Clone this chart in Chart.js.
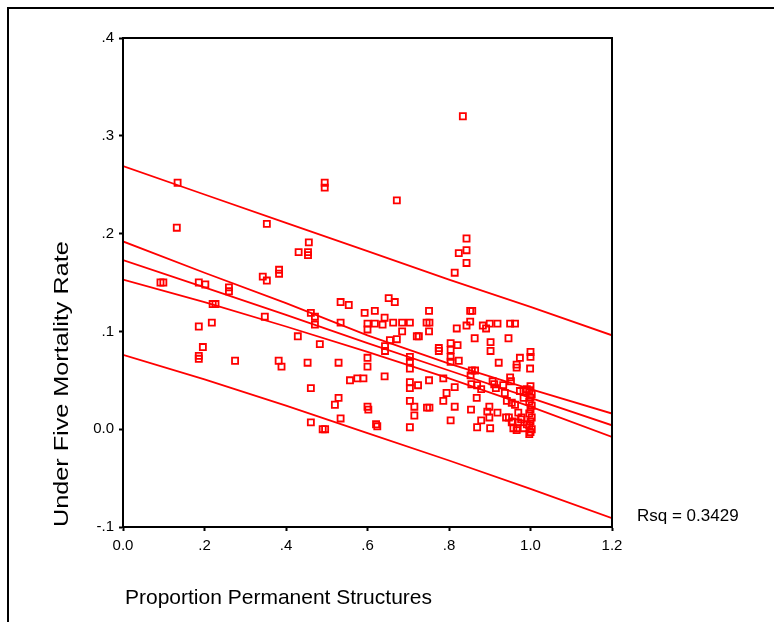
<!DOCTYPE html>
<html>
<head>
<meta charset="utf-8">
<title>Under Five Mortality Rate</title>
<script src="https://cdn.jsdelivr.net/npm/chart.js@4.4.1/dist/chart.umd.min.js"></script>
<style>
    html, body { margin: 0; padding: 0; background: #fff; overflow: hidden; }
    #box { position: relative; width: 774px; height: 622px; }
</style>
</head>
<body>
<div id="box"><canvas id="grafico" width="774" height="622"></canvas></div>
<script>
// dati
var proporzione = [
    0.134,0.834,0.495,0.495,0.672,0.843,0.456,0.431,0.454,0.454,
    0.824,0.843,0.843,0.814,0.383,0.383,0.132,0.353,0.092,0.099,
    0.186,0.202,0.260,0.260,0.343,0.353,0.220,0.227,0.348,0.186,
    0.218,0.429,0.196,0.186,0.186,0.275,0.382,0.389,0.652,0.667,
    0.534,0.554,0.593,0.618,0.642,0.534,0.600,0.600,0.618,0.637,
    0.663,0.685,0.704,0.685,0.672,0.655,0.721,0.726,0.643,0.643,
    0.483,0.704,0.704,0.600,0.600,0.529,0.704,0.751,0.461,0.471,
    0.471,0.745,0.752,0.751,0.775,0.775,0.804,0.804,0.804,0.804,
    0.821,0.819,0.453,0.557,0.575,0.590,0.642,0.704,0.704,0.724,
    0.751,0.786,0.814,0.794,0.786,0.814,0.461,0.529,0.520,0.600,
    0.602,0.704,0.715,0.715,0.746,0.752,0.534,0.461,0.490,0.496,
    0.621,0.624,0.704,0.804,0.852,0.857,0.843,0.852,0.863,0.883,
    0.891,0.900,0.919,0.950,0.962,0.902,0.902,0.946,0.824,0.922,
    1.000,1.000,0.974,0.966,0.966,0.999,0.856,0.864,0.853,0.855,
    0.869,0.879,0.868,0.854,0.879,0.869,0.901,0.899,0.894,0.899,
    0.919,0.907,0.911,0.933,0.950,0.952,0.937,0.942,0.940,0.947,
    0.954,0.958,0.968,0.970,0.974,0.983,0.983,0.991,0.962,0.977,
    0.991,0.915,0.954,0.956,0.970,0.966,0.983,0.978,1.000,0.997,
    1.003,1.000,0.997,1.003,1.000,0.997,1.003,1.000,0.997,1.003,
    1.000,0.997
];
var mortalita = [
    0.252,0.320,0.252,0.247,0.234,0.195,0.191,0.181,0.181,0.178,
    0.180,0.183,0.170,0.160,0.163,0.159,0.206,0.210,0.150,0.150,
    0.150,0.148,0.145,0.141,0.156,0.152,0.128,0.128,0.115,0.105,
    0.109,0.095,0.084,0.075,0.072,0.070,0.070,0.064,0.134,0.130,
    0.130,0.127,0.119,0.121,0.114,0.109,0.108,0.102,0.108,0.107,
    0.109,0.109,0.109,0.100,0.092,0.091,0.095,0.095,0.085,0.080,
    0.087,0.074,0.069,0.073,0.064,0.068,0.062,0.121,0.119,0.115,
    0.107,0.109,0.109,0.100,0.083,0.080,0.088,0.081,0.074,0.069,
    0.086,0.103,0.068,0.050,0.052,0.052,0.054,0.048,0.042,0.045,
    0.050,0.052,0.043,0.037,0.029,0.023,0.042,0.032,0.025,0.023,
    0.020,0.029,0.023,0.014,0.022,0.022,0.011,0.007,0.000,0.000,
    0.005,0.003,0.002,0.009,0.121,0.121,0.106,0.110,0.093,0.106,
    0.103,0.108,0.108,0.108,0.108,0.089,0.080,0.093,0.070,0.068,
    0.079,0.074,0.073,0.066,0.063,0.062,0.060,0.060,0.055,0.046,
    0.045,0.041,0.032,0.020,0.009,0.002,0.001,0.023,0.018,0.012,
    0.017,0.049,0.046,0.045,0.053,0.049,0.037,0.029,0.012,0.012,
    0.007,0.001,0.001,0.017,0.039,0.032,0.039,0.041,0.025,0.010,
    0.005,0.042,0.027,0.008,0.007,-0.001,0.001,0.012,0.044,0.040,
    0.036,0.032,0.028,0.024,0.020,0.016,0.012,0.008,0.004,0.000,
    -0.003,-0.005
];

// curve della regressione
var lineaX          = [0, 0.2, 0.4, 0.6, 0.8, 1.0, 1.2];
var previsioneAlta  = [0.269, 0.240, 0.211, 0.182, 0.153, 0.125, 0.096];
var mediaAlta       = [0.192, 0.160, 0.129, 0.096, 0.067, 0.041, 0.016];
var retta           = [0.173, 0.145, 0.117, 0.088, 0.060, 0.032, 0.004];
var mediaBassa      = [0.153, 0.130, 0.105, 0.079, 0.052, 0.023, -0.008];
var previsioneBassa = [0.076, 0.051, 0.024, -0.004, -0.032, -0.061, -0.091];

var valoriY    = [-0.1, 0, 0.1, 0.2, 0.3, 0.4];
var etichetteX = ['0.0', '.2', '.4', '.6', '.8', '1.0', '1.2'];
var etichetteY = ['-.1', '0.0', '.1', '.2', '.3', '.4'];
var titoloX = 'Proportion Permanent Structures';
var titoloY = 'Under Five Mortality Rate';
var rsq = 'Rsq = 0.3429';

var rosso = '#ff0000';
var carattere = 'Liberation Sans, Arial, sans-serif';

function punti(xs, ys) {
    var out = [];
    for (var i = 0; i < xs.length; i++) {
        out.push({x: xs[i], y: ys[i]});
    }
    return out;
}

function curva(valori) {
    return {
        data: punti(lineaX, valori),
        showLine: true,
        borderColor: rosso,
        borderWidth: 1.8,
        pointRadius: 0,
        fill: false
    };
}

// cornice esterna, riquadro del grafico, titoli (un po' allungati come nell'originale) e Rsq
var cornice = {
    id: 'cornice',
    beforeDraw: function(chart) {
        var ctx = chart.ctx;
        ctx.save();
        ctx.fillStyle = '#fff';
        ctx.fillRect(0, 0, chart.width, chart.height);
        ctx.strokeStyle = '#000';
        ctx.lineWidth = 2;
        ctx.strokeRect(8, 8, 900, 900);
        ctx.restore();
    },
    afterDraw: function(chart) {
        var ctx = chart.ctx;
        var a = chart.chartArea;
        ctx.save();
        ctx.strokeStyle = '#000';
        ctx.lineWidth = 2;
        ctx.strokeRect(a.left, a.top, a.right - a.left, a.bottom - a.top);
        ctx.fillStyle = '#000';
        ctx.textAlign = 'left';
        ctx.textBaseline = 'middle';
        ctx.font = '17px ' + carattere;
        ctx.fillText(rsq, 637, 516);

        ctx.font = '21px ' + carattere;
        ctx.fillText(titoloX, a.left + 2, 598);

        ctx.translate(62, a.bottom);
        ctx.scale(1, 1.2);
        ctx.rotate(-Math.PI / 2);
        ctx.fillText(titoloY, 0, 0);
        ctx.restore();
    }
};

var serie = [{
    data: punti(proporzione, mortalita),
    pointStyle: 'rect',
    pointRadius: 4.3,
    pointBorderWidth: 1.8,
    pointBorderColor: rosso,
    pointBackgroundColor: 'rgba(0,0,0,0)',
    showLine: false
}];
serie.push(curva(previsioneAlta), curva(mediaAlta), curva(retta), curva(mediaBassa), curva(previsioneBassa));

var grafico = new Chart(document.getElementById('grafico'), {
    type: 'scatter',
    data: { datasets: serie },
    options: {
        responsive: false,
        animation: false,
        layout: { padding: { top: 38, right: 162, bottom: 0, left: 0 } },
        plugins: { legend: { display: false }, tooltip: { enabled: false } },
        scales: {
            x: {
                min: 0, max: 1.2,
                afterFit: function(s) { s.height = 95; },
                afterBuildTicks: function(s) {
                    s.ticks = lineaX.map(function(v) { return {value: v}; });
                },
                ticks: {
                    color: '#000', padding: 6, maxRotation: 0, autoSkip: false,
                    font: { family: carattere, size: 15 },
                    callback: function(v, i) { return etichetteX[i]; }
                },
                grid: { drawOnChartArea: false, drawTicks: true, tickLength: 4, tickWidth: 2, tickColor: '#000' },
                border: { display: true, color: '#000', width: 2 }
            },
            y: {
                min: -0.1, max: 0.4,
                afterFit: function(s) { s.width = 123; },
                afterBuildTicks: function(s) {
                    s.ticks = valoriY.map(function(v) { return {value: v}; });
                },
                ticks: {
                    color: '#000', padding: 5, autoSkip: false,
                    font: { family: carattere, size: 15 },
                    callback: function(v, i) { return etichetteY[i]; }
                },
                grid: { drawOnChartArea: false, drawTicks: true, tickLength: 4, tickWidth: 2, tickColor: '#000' },
                border: { display: true, color: '#000', width: 2 }
            }
        }
    },
    plugins: [cornice]
});
</script>
</body>
</html>
